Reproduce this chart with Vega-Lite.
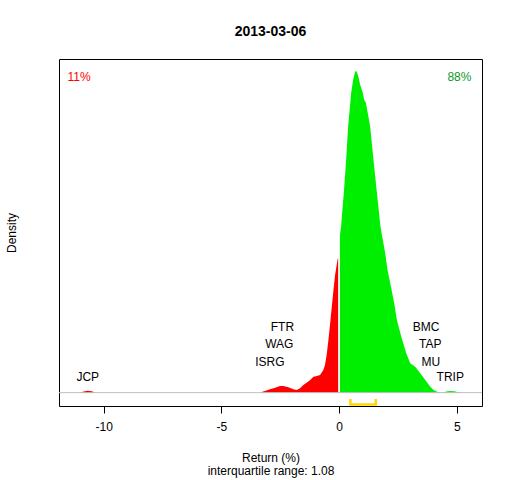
{
  "$schema": "https://vega.github.io/schema/vega-lite/v6.json",
  "width": 423,
  "height": 347,
  "autosize": {"type": "none"},
  "padding": {"left": 59, "top": 59, "right": 30, "bottom": 74},
  "title": {"text": "2013-03-06", "fontSize": 14, "fontWeight": "bold", "color": "black", "offset": 20},
  "datasets": {
    "density": [
      {"x": -11.02, "y": 0, "side": "neg"},
      {"x": -10.85, "y": 0.0014, "side": "neg"},
      {"x": -10.68, "y": 0.0024, "side": "neg"},
      {"x": -10.51, "y": 0.0017, "side": "neg"},
      {"x": -10.34, "y": 0, "side": "neg"},
      {"x": -3.35, "y": 0, "side": "neg"},
      {"x": -3.26, "y": 0.0012, "side": "neg"},
      {"x": -3.15, "y": 0.002, "side": "neg"},
      {"x": -2.94, "y": 0.0041, "side": "neg"},
      {"x": -2.72, "y": 0.006, "side": "neg"},
      {"x": -2.51, "y": 0.008, "side": "neg"},
      {"x": -2.37, "y": 0.008, "side": "neg"},
      {"x": -2.16, "y": 0.0065, "side": "neg"},
      {"x": -1.94, "y": 0.0041, "side": "neg"},
      {"x": -1.8, "y": 0.0032, "side": "neg"},
      {"x": -1.66, "y": 0.0053, "side": "neg"},
      {"x": -1.52, "y": 0.0092, "side": "neg"},
      {"x": -1.38, "y": 0.012, "side": "neg"},
      {"x": -1.23, "y": 0.0152, "side": "neg"},
      {"x": -1.09, "y": 0.0192, "side": "neg"},
      {"x": -0.94, "y": 0.02, "side": "neg"},
      {"x": -0.81, "y": 0.0212, "side": "neg"},
      {"x": -0.67, "y": 0.0272, "side": "neg"},
      {"x": -0.6, "y": 0.0332, "side": "neg"},
      {"x": -0.52, "y": 0.0473, "side": "neg"},
      {"x": -0.455, "y": 0.0632, "side": "neg"},
      {"x": -0.38, "y": 0.0833, "side": "neg"},
      {"x": -0.31, "y": 0.1032, "side": "neg"},
      {"x": -0.24, "y": 0.1232, "side": "neg"},
      {"x": -0.17, "y": 0.1412, "side": "neg"},
      {"x": -0.07, "y": 0.159, "side": "neg"},
      {"x": -0.03, "y": 0.163, "side": "neg"},
      {"x": 0.013, "y": 0.1832, "side": "pos"},
      {"x": 0.064, "y": 0.1952, "side": "pos"},
      {"x": 0.085, "y": 0.1992, "side": "pos"},
      {"x": 0.128, "y": 0.2153, "side": "pos"},
      {"x": 0.2, "y": 0.2396, "side": "pos"},
      {"x": 0.255, "y": 0.2612, "side": "pos"},
      {"x": 0.298, "y": 0.2792, "side": "pos"},
      {"x": 0.383, "y": 0.3192, "side": "pos"},
      {"x": 0.468, "y": 0.3452, "side": "pos"},
      {"x": 0.511, "y": 0.3593, "side": "pos"},
      {"x": 0.596, "y": 0.3752, "side": "pos"},
      {"x": 0.681, "y": 0.3848, "side": "pos"},
      {"x": 0.711, "y": 0.386, "side": "pos"},
      {"x": 0.766, "y": 0.3836, "side": "pos"},
      {"x": 0.83, "y": 0.3776, "side": "pos"},
      {"x": 0.894, "y": 0.3692, "side": "pos"},
      {"x": 1.009, "y": 0.3593, "side": "pos"},
      {"x": 1.064, "y": 0.3512, "side": "pos"},
      {"x": 1.136, "y": 0.3476, "side": "pos"},
      {"x": 1.191, "y": 0.3392, "side": "pos"},
      {"x": 1.319, "y": 0.3192, "side": "pos"},
      {"x": 1.46, "y": 0.2792, "side": "pos"},
      {"x": 1.604, "y": 0.2396, "side": "pos"},
      {"x": 1.757, "y": 0.1992, "side": "pos"},
      {"x": 1.83, "y": 0.1872, "side": "pos"},
      {"x": 1.957, "y": 0.1673, "side": "pos"},
      {"x": 2.055, "y": 0.1472, "side": "pos"},
      {"x": 2.2, "y": 0.1272, "side": "pos"},
      {"x": 2.34, "y": 0.1073, "side": "pos"},
      {"x": 2.455, "y": 0.0872, "side": "pos"},
      {"x": 2.638, "y": 0.0672, "side": "pos"},
      {"x": 2.851, "y": 0.0473, "side": "pos"},
      {"x": 3.021, "y": 0.0353, "side": "pos"},
      {"x": 3.234, "y": 0.0312, "side": "pos"},
      {"x": 3.447, "y": 0.0233, "side": "pos"},
      {"x": 3.66, "y": 0.0152, "side": "pos"},
      {"x": 3.872, "y": 0.0072, "side": "pos"},
      {"x": 4.013, "y": 0.0032, "side": "pos"},
      {"x": 4.157, "y": 0.0012, "side": "pos"},
      {"x": 4.298, "y": 0.0002, "side": "pos"},
      {"x": 4.468, "y": 0.0004, "side": "pos"},
      {"x": 4.553, "y": 0.0014, "side": "pos"},
      {"x": 4.723, "y": 0.002, "side": "pos"},
      {"x": 4.894, "y": 0.0018, "side": "pos"},
      {"x": 5.021, "y": 0.0008, "side": "pos"},
      {"x": 5.106, "y": 0, "side": "pos"}
    ],
    "labels": [
      {"label": "JCP", "x": -10.68, "y": 0.0185},
      {"label": "ISRG", "x": -2.94, "y": 0.0372},
      {"label": "WAG", "x": -2.54, "y": 0.058},
      {"label": "FTR", "x": -2.41, "y": 0.0785},
      {"label": "BMC", "x": 3.69, "y": 0.0785},
      {"label": "TAP", "x": 3.87, "y": 0.058},
      {"label": "MU", "x": 3.9, "y": 0.0372},
      {"label": "TRIP", "x": 4.72, "y": 0.0185}
    ],
    "shares": [
      {"label": "11%", "x": -11.05, "y": 0.378, "side": "neg"},
      {"label": "88%", "x": 5.11, "y": 0.378, "side": "pos"}
    ],
    "iqr": [
      {"x": 0.48, "y": -0.0076, "k": 1},
      {"x": 0.48, "y": -0.0142, "k": 2},
      {"x": 1.56, "y": -0.0142, "k": 3},
      {"x": 1.56, "y": -0.0076, "k": 4}
    ]
  },
  "encoding": {
    "x": {
      "type": "quantitative",
      "scale": {"domain": [-11.9, 6.07], "nice": false, "zero": false},
      "axis": {
        "values": [-10, -5, 0, 5],
        "labelExpr": "toString(datum.value)",
        "title": ["Return (%)", "interquartile range: 1.08"],
        "titleLineHeight": 13.5,
        "titlePadding": 20
      }
    },
    "y": {
      "type": "quantitative",
      "scale": {"domain": [-0.016, 0.4], "nice": false, "zero": false},
      "axis": {"title": "Density", "labels": false, "ticks": false, "titlePadding": 41}
    }
  },
  "layer": [
    {
      "data": {"name": "density"},
      "mark": {"type": "area", "interpolate": "linear"},
      "encoding": {
        "x": {"field": "x", "type": "quantitative"},
        "y": {"field": "y", "type": "quantitative", "stack": null},
        "color": {
          "field": "side",
          "type": "nominal",
          "scale": {"domain": ["neg", "pos"], "range": ["#FF0000", "#00EE00"]},
          "legend": null
        }
      }
    },
    {
      "data": {"values": [{}]},
      "mark": {"type": "rule", "color": "white", "strokeWidth": 1.5},
      "encoding": {"x": {"datum": 0}, "y": {"datum": 0}, "y2": {"datum": 0.2}}
    },
    {
      "data": {"values": [{}]},
      "mark": {"type": "rule", "color": "#BEBEBE", "strokeWidth": 1},
      "encoding": {"y": {"datum": 0}}
    },
    {
      "data": {"name": "labels"},
      "mark": {"type": "text", "fontSize": 12, "color": "black", "align": "center", "baseline": "middle"},
      "encoding": {
        "x": {"field": "x", "type": "quantitative"},
        "y": {"field": "y", "type": "quantitative"},
        "text": {"field": "label"}
      }
    },
    {
      "data": {"name": "shares"},
      "transform": [{"filter": "datum.side === 'neg'"}],
      "mark": {"type": "text", "fontSize": 12, "color": "#FF0000", "align": "center", "baseline": "middle"},
      "encoding": {
        "x": {"field": "x", "type": "quantitative"},
        "y": {"field": "y", "type": "quantitative"},
        "text": {"field": "label"}
      }
    },
    {
      "data": {"name": "shares"},
      "transform": [{"filter": "datum.side === 'pos'"}],
      "mark": {"type": "text", "fontSize": 12, "color": "#0A9A2A", "align": "center", "baseline": "middle"},
      "encoding": {
        "x": {"field": "x", "type": "quantitative"},
        "y": {"field": "y", "type": "quantitative"},
        "text": {"field": "label"}
      }
    },
    {
      "data": {"name": "iqr"},
      "mark": {"type": "line", "color": "#FFD700", "strokeWidth": 2.5, "strokeCap": "butt"},
      "encoding": {
        "x": {"field": "x", "type": "quantitative"},
        "y": {"field": "y", "type": "quantitative"},
        "order": {"field": "k"}
      }
    }
  ],
  "config": {
    "font": "Liberation Sans",
    "view": {"stroke": "black", "strokeWidth": 1},
    "axis": {
      "grid": false,
      "domain": false,
      "tickColor": "black",
      "tickSize": 7,
      "labelFontSize": 12,
      "labelColor": "black",
      "labelPadding": 8,
      "titleFontSize": 12,
      "titleFontWeight": "normal",
      "titleColor": "black"
    }
  }
}
